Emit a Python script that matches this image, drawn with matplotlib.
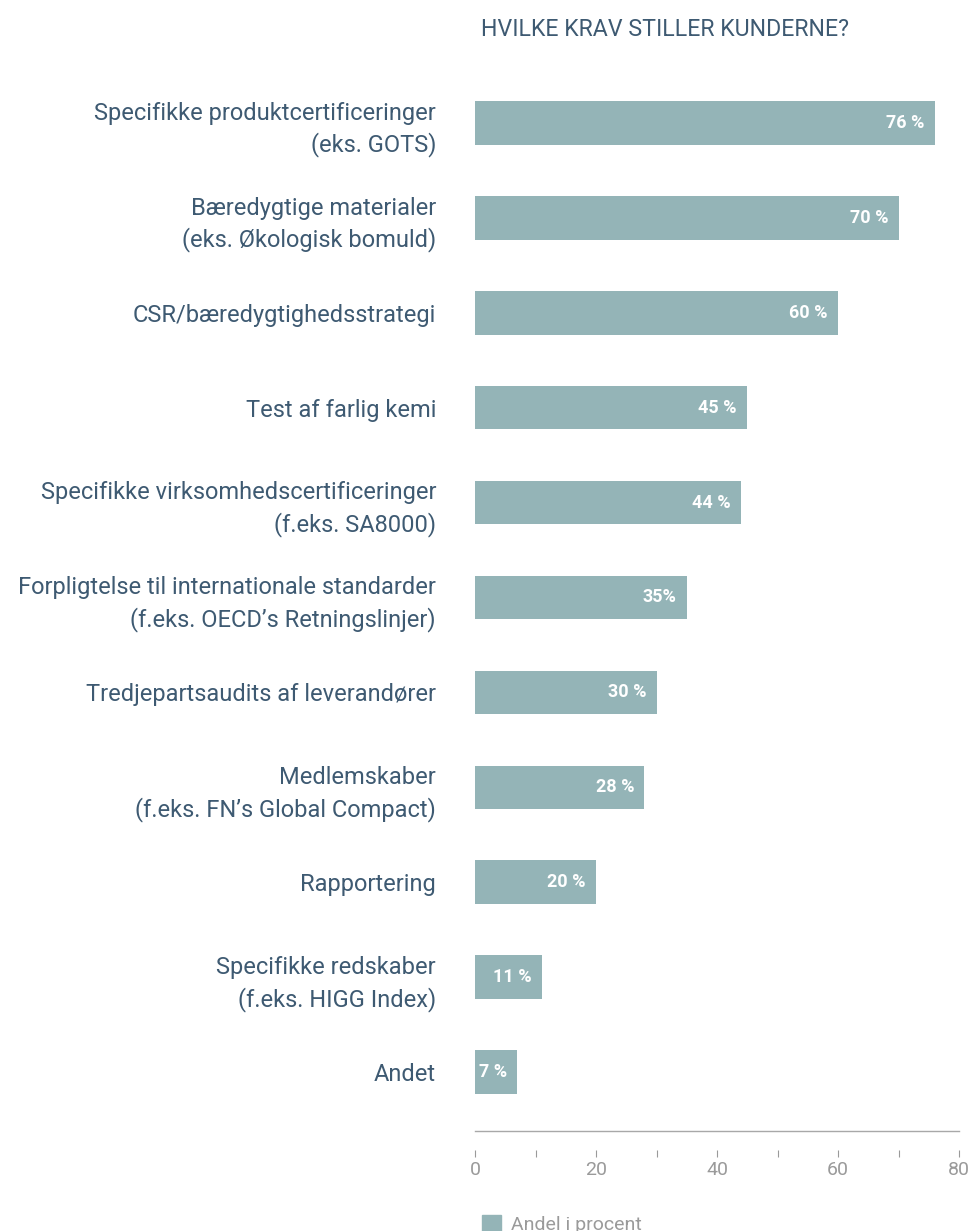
import matplotlib.pyplot as plt
from matplotlib.patches import Patch
from matplotlib.ticker import MultipleLocator

categories = [
    "Specifikke produktcertificeringer\n(eks. GOTS)",
    "Bæredygtige materialer\n(eks. Økologisk bomuld)",
    "CSR/bæredygtighedsstrategi",
    "Test af farlig kemi",
    "Specifikke virksomhedscertificeringer\n(f.eks. SA8000)",
    "Forpligtelse til internationale standarder\n(f.eks. OECD’s Retningslinjer)",
    "Tredjepartsaudits af leverandører",
    "Medlemskaber\n(f.eks. FN’s Global Compact)",
    "Rapportering",
    "Specifikke redskaber\n(f.eks. HIGG Index)",
    "Andet",
]
values = [76, 70, 60, 45, 44, 35, 30, 28, 20, 11, 7]
value_labels = ["76 %", "70 %", "60 %", "45 %", "44 %", "35%", "30 %", "28 %", "20 %", "11 %", "7 %"]

bar_color = "#94b4b7"
text_color = "#3e5a72"
grey = "#9a9a9a"

plt.rcParams['font.family'] = ['Roboto', 'DejaVu Sans']

fig = plt.figure(figsize=(9.73, 12.31), dpi=100)
ax = fig.add_axes([475/973, 1 - 1131/1231, (959-475)/973, (1131-64)/1231])

pos = list(range(len(values)))
ax.barh(pos, values, height=0.46, color=bar_color, label="Andel i procent")
for p, v, lab in zip(pos, values, value_labels):
    ax.text(v - 1.7, p, lab, ha="right", va="center", color="white",
            fontsize=13, fontweight="bold")

ax.set_ylim(10.62, -0.62)
ax.set_xlim(0, 80)
ax.set_yticks(pos)
ax.set_yticklabels(categories, fontsize=17, color=text_color, linespacing=1.4)
ax.tick_params(axis="y", length=0, pad=28)

ax.xaxis.set_major_locator(MultipleLocator(20))
ax.xaxis.set_minor_locator(MultipleLocator(10))
ax.tick_params(axis="x", which="both", length=5, width=0.8, color=grey,
               labelcolor=grey, labelsize=14, pad=3)
for s in ["top", "right", "left"]:
    ax.spines[s].set_visible(False)
ax.spines["bottom"].set_position(("outward", 13.7))
ax.spines["bottom"].set_visible(False)
ax.axhline(10.62, color="#a8a8a8", linewidth=1, clip_on=False)

fig.text(481/973, 1 - 30/1231, "HVILKE KRAV STILLER KUNDERNE?", fontsize=16.7,
         color=text_color, va="center", ha="left")

fig.legend(handles=[Patch(color=bar_color, label="Andel i procent")],
           loc="upper left", bbox_to_anchor=(472/973, 1 - 1205/1231),
           frameon=False, fontsize=14, labelcolor=grey,
           handlelength=0.98, handleheight=0.98, handletextpad=0.55, borderpad=0)

fig.savefig("out.png", dpi=100)
